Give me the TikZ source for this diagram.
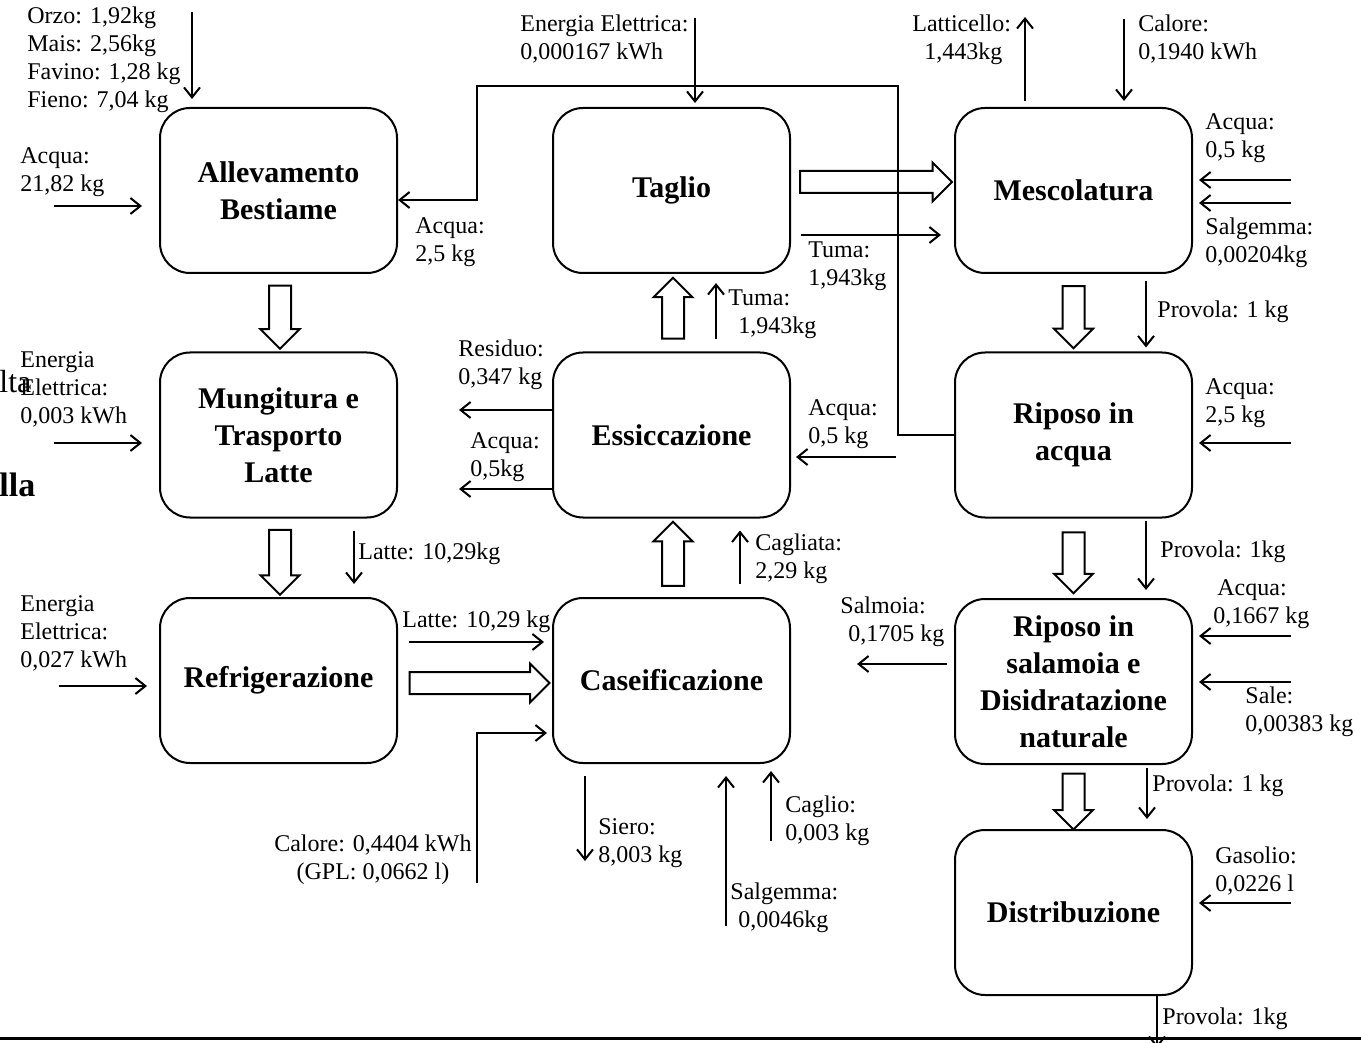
\documentclass[tikz,border=0pt]{standalone}
\usepackage{fontspec}
\setmainfont{Liberation Serif}
\usetikzlibrary{arrows.meta,calc,shapes.arrows}

\begin{document}
\begin{tikzpicture}[x=0.5pt,y=-0.5pt]
\tikzset{
  fase/.style={draw,line width=1pt,rounded corners=15pt,minimum width=118.5pt,
    minimum height=82.5pt,align=center,inner sep=2pt,
    font=\fontsize{15}{18.5}\selectfont\bfseries},
  flusso/.style={line width=1pt,-{Straight Barb[length=5pt,width=8pt,line width=1pt]}},
  blocco/.style={draw,line width=1pt,shape=single arrow,single arrow head extend=4.25pt,
    minimum width=0pt,inner xsep=0pt,inner ysep=5pt,outer sep=0pt,fill=white},
  etic/.style={anchor=north west,align=left,inner sep=0pt,font=\fontsize{12}{14}\selectfont}
}
\useasboundingbox (0,0) rectangle (1361,1043);

% fasi del processo
\node [fase] (alle) at (278.5,190.5) {Allevamento\\Bestiame};
\node [fase] (tagl) at (671.5,190.5) {Taglio};
\node [fase] (mesc) at (1073.5,190.5) {Mescolatura};
\node [fase] (mung) at (278.5,435) {Mungitura e\\Trasporto\\Latte};
\node [fase] (essi) at (671.5,435) {Essiccazione};
\node [fase] (riac) at (1073.5,435) {Riposo in\\acqua};
\node [fase] (refr) at (278.5,680.5) {Refrigerazione};
\node [fase] (case) at (671.5,680.5) {Caseificazione};
\node [fase] (sala) at (1073.5,681.5) {Riposo in\\salamoia e\\Disidratazione\\naturale};
\node [fase] (dist) at (1073.5,912.5) {Distribuzione};

% frecce grandi
\node [blocco,rotate=-90,minimum height=31.5pt] (b1) at ($(alle.south)!0.5!(mung.north)+(1.5,-1)$) {};
\node [blocco,rotate=-90,minimum height=32.5pt] (b2) at ($(mung.south)!0.5!(refr.north)+(1.5,-1)$) {};
\node [blocco,minimum height=70pt] (b3) at ($(refr.east)!0.5!(case.west)+(-1,2.5)$) {};
\node [blocco,rotate=90,minimum height=32pt] (b4) at ($(case.north)!0.5!(essi.south)+(1.5,1.5)$) {};
\node [blocco,rotate=90,minimum height=30.5pt] (b5) at ($(essi.north)!0.5!(tagl.south)+(1.5,1)$) {};
\node [blocco,minimum height=76pt] (b6) at ($(tagl.east)!0.5!(mesc.west)+(-2,-8.5)$) {};
\node [blocco,rotate=-90,minimum height=31pt] (b7) at ($(mesc.south)!0.5!(riac.north)+(0,-1)$) {};
\node [blocco,rotate=-90,minimum height=30.5pt] (b8) at ($(riac.south)!0.5!(sala.north)+(0,-1)$) {};
\node [blocco,rotate=-90,minimum height=28pt] (b9) at ($(sala.south)!0.5!(dist.north)+(0,-1)$) {};

% flussi di materia ed energia
\coordinate (mang) at (192,12);
\draw [flusso,shorten >=4pt] (mang) -- (alle.north -| mang);
\draw [flusso] ($(alle.west)+(-105,15.5)$) -- ++(88,0);
\coordinate (ric1) at (898,86);
\coordinate (ric2) at (477,200);
\draw [flusso] (riac.west) -| (ric1) -| (ric2) -- (alle.east |- ric2);
\coordinate (elet) at (695,18);
\draw [flusso,shorten >=2pt] (elet) -- (tagl.north -| elet);
\draw [flusso] ($(tagl.east)+(10,44.5)$) -- ($(mesc.west)+(-13,44.5)$);
\draw [flusso] ($(essi.north)+(44.5,-12)$) -- ($(tagl.south)+(44.5,9)$);
\draw [flusso] ($(mesc.north)+(-48.5,-6)$) -- ++(0,-84);
\draw [flusso] ($(mesc.north)+(50.5,-88)$) -- ++(0,82);
\draw [flusso] ($(mesc.east)+(98,-10.5)$) -- ++(-92,0);
\draw [flusso] ($(mesc.east)+(98,12.5)$) -- ++(-92,0);
\draw [flusso] ($(mesc.south)+(72.5,7)$) -- ($(riac.north)+(72.5,-4)$);
\draw [flusso] ($(essi.west)+(0,-25)$) -- ++(-93,0);
\draw [flusso] ($(essi.west)+(0,54)$) -- ++(-93,0);
\draw [flusso] ($(essi.east)+(105,22)$) -- ($(essi.east)+(5,22)$);
\draw [flusso] ($(mung.west)+(-105,8)$) -- ++(88,0);
\draw [flusso] ($(mung.south)+(75.5,12)$) -- ($(refr.north)+(75.5,-13)$);
\draw [flusso] ($(case.north)+(68.5,-13)$) -- ($(essi.south)+(68.5,12)$);
\draw [flusso] ($(riac.east)+(98,8)$) -- ++(-92,0);
\draw [flusso] ($(riac.south)+(72.5,2)$) -- ($(sala.north)+(72.5,-8)$);
\draw [flusso] ($(refr.west)+(-100,5.5)$) -- ++(88,0);
\draw [flusso] ($(refr.east)+(11,-38.5)$) -- ($(case.west)+(-8,-38.5)$);
\coordinate (calo) at (477,883);
\draw [flusso] (calo) |- ($(case.west)+(-5,52.5)$);
\draw [flusso] ($(case.south)+(-86.5,12)$) -- ++(0,85);
\draw [flusso] ($(case.south)+(54.5,162)$) -- ($(case.south)+(54.5,12)$);
\draw [flusso] ($(case.south)+(99.5,77)$) -- ($(case.south)+(99.5,7)$);
\draw [flusso] ($(sala.west)+(-7,-17.5)$) -- ++(-90,0);
\draw [flusso] ($(sala.east)+(98,-45.5)$) -- ++(-92,0);
\draw [flusso] ($(sala.east)+(98,0.5)$) -- ++(-92,0);
\draw [flusso] ($(sala.south)+(73.5,3)$) -- ($(dist.north)+(73.5,-10)$);
\draw [flusso] ($(dist.east)+(98,-9.5)$) -- ++(-92,0);
\draw [flusso] ($(dist.south)+(83.5,0)$) -- ++(0,52);

% etichette
\node [etic] (lmang) at (27,6) {Orzo: 1,92kg\\Mais: 2,56kg\\Favino: 1,28 kg\\Fieno: 7,04 kg};
\node [etic] (lacq1) at (20,147) {Acqua:\\21,82 kg};
\node [etic] (lacq2) at (415,217) {Acqua:\\2,5 kg};
\node [etic] (lelet) at (520,14) {Energia Elettrica:\\0,000167 kWh};
\node [etic] (ltum1) at (808,241) {Tuma:\\1,943kg};
\node [etic] (ltum2) at (728,289) {Tuma:\\\hspace*{5pt}1,943kg};
\node [etic] (llatt) at (912,14) {Latticello:\\\hspace*{6pt}1,443kg};
\node [etic] (lcal1) at (1138,14) {Calore:\\0,1940 kWh};
\node [etic] (lacq3) at (1205,113) {Acqua:\\0,5 kg};
\node [etic] (lsalg) at (1205,217) {Salgemma:\\0,00204kg};
\node [etic] (lpro1) at (1157,300) {Provola: 1 kg};
\node [etic] (lresi) at (458,339) {Residuo:\\0,347 kg};
\node [etic] (lacq4) at (470,432) {Acqua:\\0,5kg};
\node [etic] (lacq5) at (808,399) {Acqua:\\0,5 kg};
\node [etic] (lene2) at (20,351) {Energia\\Elettrica:\\0,003 kWh};
\node [etic] (llat1) at (358,542) {Latte: 10,29kg};
\node [etic] (lcagl) at (755,533) {Cagliata:\\2,29 kg};
\node [etic] (lacq6) at (1205,378) {Acqua:\\2,5 kg};
\node [etic] (lpro2) at (1160,540) {Provola: 1kg};
\node [etic] (lene3) at (20,595) {Energia\\Elettrica:\\0,027 kWh};
\node [etic] (llat2) at (402,610) {Latte: 10,29 kg};
\node [etic,anchor=north east,align=center] (lcal2) at (472,834) {Calore: 0,4404 kWh\\(GPL: 0,0662 l)};
\node [etic] (lsier) at (598,818) {Siero:\\8,003 kg};
\node [etic] (lsal2) at (730,882) {Salgemma:\\\hspace*{4pt}0,0046kg};
\node [etic] (lcagl2) at (785,795) {Caglio:\\0,003 kg};
\node [etic] (lsalm) at (840,596) {Salmoia:\\\hspace*{4pt}0,1705 kg};
\node [etic] (lacq7) at (1213,579) {\hspace*{2pt}Acqua:\\0,1667 kg};
\node [etic] (lsale) at (1245,686) {Sale:\\0,00383 kg};
\node [etic] (lpro3) at (1152,774) {Provola: 1 kg};
\node [etic] (lgaso) at (1215,846) {Gasolio:\\0,0226 l};
\node [etic] (lpro4) at (1162,1007) {Provola: 1kg};

% testo tagliato a sinistra
\node [anchor=west,inner sep=0pt,font=\fontsize{16}{16}\selectfont] (resto1) at (-1,382) {lta};
\node [anchor=west,inner sep=0pt,font=\fontsize{17}{17}\selectfont\bfseries] (resto2) at (-1,485) {lla};
\draw [line width=1.5pt] (0,1038) -- (1361,1038);
\end{tikzpicture}
\end{document}
